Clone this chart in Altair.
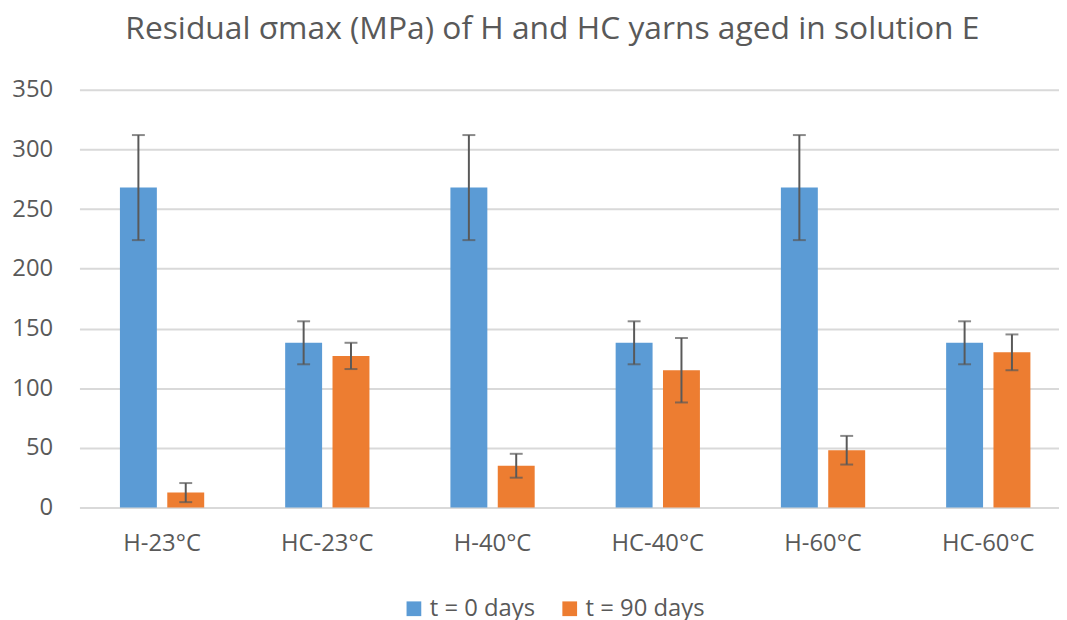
import altair as alt
import pandas as pd

categories = ["H-23°C", "HC-23°C", "H-40°C", "HC-40°C", "H-60°C", "HC-60°C"]
series = ["t = 0 days", "t = 90 days"]
t0_values = [268, 138, 268, 138, 268, 138]
t0_errors = [44, 18, 44, 18, 44, 18]
t90_values = [12.5, 127, 35, 115, 48, 130]
t90_errors = [8, 11, 10, 27, 12, 15]
colors = ["#5B9BD5", "#ED7D31"]
y_ticks = [0, 50, 100, 150, 200, 250, 300, 350]

rows = []
for c, v, e in zip(categories, t0_values, t0_errors):
    rows.append({"cat": c, "series": series[0], "value": v, "lo": v - e, "hi": v + e})
for c, v, e in zip(categories, t90_values, t90_errors):
    rows.append({"cat": c, "series": series[1], "value": v, "lo": v - e, "hi": v + e})
df = pd.DataFrame(rows)

FONT = "Open Sans"
TXT = "#595959"

x_enc = alt.X("cat:N", sort=categories, title=None,
              scale=alt.Scale(paddingInner=0.49, paddingOuter=0.209, align=0.586),
              axis=alt.Axis(labelAngle=0, ticks=False, domain=False, labelPadding=24,
                            labelFont=FONT, labelFontSize=24, labelColor=TXT, grid=False))
xo_enc = alt.XOffset("series:N", sort=series,
                     scale=alt.Scale(paddingInner=0.22, paddingOuter=0))
y_scale = alt.Scale(domain=[0, 350], nice=False)

bars = alt.Chart(df).mark_bar().encode(
    x=x_enc,
    xOffset=xo_enc,
    y=alt.Y("value:Q", scale=y_scale, title=None,
            axis=alt.Axis(values=y_ticks, ticks=False, domain=False, labelPadding=27,
                          labelFont=FONT, labelFontSize=24, labelColor=TXT,
                          gridColor="#D9D9D9", gridWidth=2)),
    color=alt.Color("series:N", sort=series,
                    scale=alt.Scale(domain=series, range=colors),
                    legend=alt.Legend(title=None, orient="none", direction="horizontal",
                                      legendX=325, legendY=511, symbolType="square",
                                      symbolSize=220, symbolStrokeWidth=0,
                                      labelFont=FONT, labelFontSize=24, labelColor=TXT,
                                      columnPadding=22, symbolOffset=0, labelOffset=4)),
)

rules = alt.Chart(df).mark_rule(color="#595959", strokeWidth=2).encode(
    x=alt.X("cat:N", sort=categories),
    xOffset=xo_enc,
    y=alt.Y("lo:Q", scale=y_scale),
    y2="hi:Q",
)

caps_hi = alt.Chart(df).mark_tick(color="#595959", thickness=2, size=13).encode(
    x=alt.X("cat:N", sort=categories),
    xOffset=xo_enc,
    y=alt.Y("hi:Q", scale=y_scale),
)
caps_lo = alt.Chart(df).mark_tick(color="#595959", thickness=2, size=13).encode(
    x=alt.X("cat:N", sort=categories),
    xOffset=xo_enc,
    y=alt.Y("lo:Q", scale=y_scale),
)

chart = alt.layer(bars, rules, caps_hi, caps_lo).properties(
    width=987,
    height=421,
    autosize=alt.AutoSizeParams(type="none"),
    padding={"left": 72, "top": 80, "right": 0, "bottom": 111},
    background="white",
    title=alt.TitleParams("Residual σmax (MPa) of H and HC yarns aged in solution E",
                          font=FONT, fontSize=32, fontWeight="normal", color=TXT,
                          anchor="middle", dx=-17, offset=32),
).configure_view(stroke=None)

chart.save("out.html", embed_options={"renderer": "svg", "actions": False})
